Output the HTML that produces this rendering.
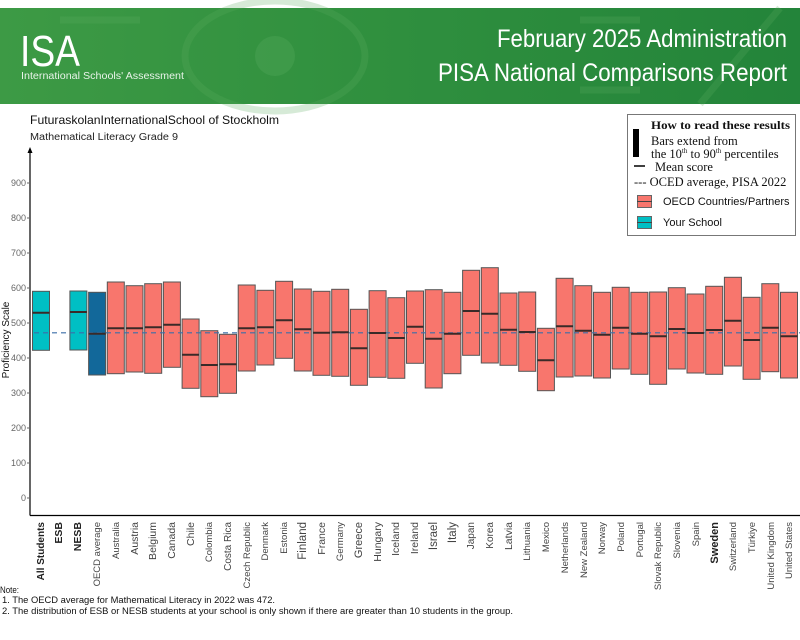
<!DOCTYPE html>
<html><head><meta charset="utf-8"><style>
html,body{margin:0;padding:0;background:#fff;}
svg{display:block;font-family:"Liberation Sans",sans-serif;}
</style></head><body>
<svg width="800" height="640" viewBox="0 0 800 640" xmlns="http://www.w3.org/2000/svg">
<defs>
<linearGradient id="g" x1="0" x2="1" y1="0" y2="0">
<stop offset="0" stop-color="#3d9a45"/><stop offset="0.5" stop-color="#2f8f3e"/><stop offset="1" stop-color="#23843a"/>
</linearGradient>
</defs>
<rect x="0" y="8" width="800" height="96" fill="url(#g)"/>
<g fill="none" stroke="#5aad5f" stroke-opacity="0.25" stroke-width="7">
<ellipse cx="275" cy="56" rx="90" ry="55"/>
<circle cx="275" cy="56" r="20" fill="#5aad5f" fill-opacity="0.3" stroke="none"/>
<line x1="60" y1="20" x2="140" y2="20"/>
<line x1="580" y1="20" x2="640" y2="20"/><line x1="580" y1="90" x2="640" y2="90"/>
<line x1="700" y1="104" x2="780" y2="8"/>
</g>
<text x="20" y="66" font-size="44" fill="#fff" textLength="60" lengthAdjust="spacingAndGlyphs">ISA</text>
<text x="21" y="79" font-size="10" fill="#e8f3e8" textLength="163" lengthAdjust="spacingAndGlyphs">International Schools' Assessment</text>
<text x="787" y="47" font-size="25" fill="#fff" text-anchor="end" textLength="290" lengthAdjust="spacingAndGlyphs">February 2025 Administration</text>
<text x="787" y="81" font-size="25" fill="#fff" text-anchor="end" textLength="349" lengthAdjust="spacingAndGlyphs">PISA National Comparisons Report</text>

<text x="30" y="124" font-size="12" fill="#111" textLength="249" lengthAdjust="spacingAndGlyphs">FuturaskolanInternationalSchool of Stockholm</text>
<text x="30" y="140" font-size="10" fill="#222" textLength="148" lengthAdjust="spacingAndGlyphs">Mathematical Literacy Grade 9</text>

<!-- legend -->
<rect x="627.5" y="114.5" width="168" height="121" fill="#fff" stroke="#777"/>
<g font-family="Liberation Serif,serif" fill="#111">
<text x="651" y="129" font-size="12" font-weight="bold" textLength="139" lengthAdjust="spacingAndGlyphs">How to read these results</text>
<rect x="633" y="129" width="6" height="28" fill="#000"/>
<text x="651" y="145" font-size="12.5">Bars extend from</text>
<text x="651" y="158" font-size="12.5">the 10<tspan font-size="7" dy="-5">th</tspan><tspan dy="5"> to 90</tspan><tspan font-size="7" dy="-5">th</tspan><tspan dy="5"> percentiles</tspan></text>
<line x1="634" y1="166" x2="645" y2="166" stroke="#000" stroke-width="1.5"/>
<text x="655" y="171" font-size="12.5">Mean score</text>
<text x="634" y="186" font-size="12.5">--- OCED average, PISA 2022</text>
</g>
<rect x="637.5" y="195.5" width="14" height="12" fill="#f8766d" stroke="#666"/><line x1="637" y1="201.5" x2="652" y2="201.5" stroke="#444"/>
<text x="663" y="205" font-size="11" fill="#111">OECD Countries/Partners</text>
<rect x="637.5" y="216.5" width="14" height="12" fill="#00bfc4" stroke="#666"/><line x1="637" y1="222.5" x2="652" y2="222.5" stroke="#444"/>
<text x="663" y="226" font-size="11" fill="#111">Your School</text>

<!-- axes -->
<line x1="30" y1="152" x2="30" y2="515.5" stroke="#000" stroke-width="1.2"/>
<polygon points="30,147 27.5,153 32.5,153" fill="#000"/>
<line x1="30" y1="515.5" x2="800" y2="515.5" stroke="#000" stroke-width="1.2"/>
<g font-size="9" fill="#666" text-anchor="end">
<text x="26" y="186">900</text><text x="26" y="221">800</text><text x="26" y="256">700</text>
<text x="26" y="291">600</text><text x="26" y="326">500</text><text x="26" y="361">400</text>
<text x="26" y="396">300</text><text x="26" y="431">200</text><text x="26" y="466">100</text>
<text x="26" y="501">0</text>
</g>
<g stroke="#666"><line x1="27" y1="183" x2="30" y2="183"/><line x1="27" y1="218" x2="30" y2="218"/><line x1="27" y1="253" x2="30" y2="253"/><line x1="27" y1="288" x2="30" y2="288"/><line x1="27" y1="323" x2="30" y2="323"/><line x1="27" y1="358" x2="30" y2="358"/><line x1="27" y1="393" x2="30" y2="393"/><line x1="27" y1="428" x2="30" y2="428"/><line x1="27" y1="463" x2="30" y2="463"/><line x1="27" y1="498" x2="30" y2="498"/></g>
<text transform="translate(9,340) rotate(-90)" font-size="10" fill="#111" text-anchor="middle">Proficiency Scale</text>

<!-- bars -->
<g stroke="#555" stroke-width="1">
<rect x="32.5" y="291.3" width="17" height="59" fill="#00bfc4"/>
<rect x="69.9" y="291" width="17" height="59" fill="#00bfc4"/>
<rect x="88.6" y="292.3" width="17" height="82.7" fill="#12689a"/>
<g fill="#f8766d">
<rect x="107.3" y="282" width="17" height="91.7"/>
<rect x="126" y="285.7" width="17" height="86.3"/>
<rect x="144.7" y="283.7" width="17" height="89.6"/>
<rect x="163.4" y="282" width="17" height="85.3"/>
<rect x="182.1" y="319" width="17" height="69.3"/>
<rect x="200.8" y="330.7" width="17" height="66"/>
<rect x="219.5" y="334.3" width="17" height="59"/>
<rect x="238.2" y="285" width="17" height="86"/>
<rect x="256.9" y="290.3" width="17" height="74.7"/>
<rect x="275.6" y="281.3" width="17" height="77"/>
<rect x="294.3" y="289" width="17" height="82"/>
<rect x="313" y="291.3" width="17" height="84"/>
<rect x="331.7" y="289.3" width="17" height="87"/>
<rect x="350.4" y="309.3" width="17" height="76"/>
<rect x="369.1" y="290.7" width="17" height="86.6"/>
<rect x="387.8" y="297.7" width="17" height="80.6"/>
<rect x="406.5" y="291" width="17" height="72.3"/>
<rect x="425.2" y="289.7" width="17" height="98.3"/>
<rect x="443.9" y="292.3" width="17" height="81.4"/>
<rect x="462.6" y="270.3" width="17" height="85"/>
<rect x="481.3" y="267.7" width="17" height="95.3"/>
<rect x="500" y="293" width="17" height="72.3"/>
<rect x="518.7" y="292" width="17" height="79.3"/>
<rect x="537.4" y="328.3" width="17" height="62.4"/>
<rect x="556.1" y="278.3" width="17" height="98.7"/>
<rect x="574.8" y="285.7" width="17" height="90.3"/>
<rect x="593.5" y="292.3" width="17" height="85.7"/>
<rect x="612.2" y="287.3" width="17" height="81.7"/>
<rect x="630.9" y="292.3" width="17" height="82"/>
<rect x="649.6" y="292" width="17" height="92.3"/>
<rect x="668.3" y="287.7" width="17" height="81.3"/>
<rect x="687" y="294" width="17" height="79"/>
<rect x="705.7" y="286.3" width="17" height="88"/>
<rect x="724.4" y="277.3" width="17" height="88.7"/>
<rect x="743.1" y="297.3" width="17" height="82"/>
<rect x="761.8" y="283.7" width="17" height="88"/>
<rect x="780.5" y="292.3" width="17" height="85.7"/>
</g></g>
<line x1="34" y1="332.8" x2="800" y2="332.8" stroke="#3b6fa8" stroke-width="1.2" stroke-dasharray="5,4"/>
<g stroke="#3a2a28" stroke-width="2">
<line x1="32.5" x2="49.5" y1="312.7" y2="312.7"/>
<line x1="69.9" x2="86.9" y1="312" y2="312"/>
<line x1="88.6" x2="105.6" y1="333.7" y2="333.7"/>
<line x1="107.3" x2="124.3" y1="328.3" y2="328.3"/>
<line x1="126" x2="143" y1="328.3" y2="328.3"/>
<line x1="144.7" x2="161.7" y1="327.3" y2="327.3"/>
<line x1="163.4" x2="180.4" y1="324.7" y2="324.7"/>
<line x1="182.1" x2="199.1" y1="354.7" y2="354.7"/>
<line x1="200.8" x2="217.8" y1="365" y2="365"/>
<line x1="219.5" x2="236.5" y1="364.3" y2="364.3"/>
<line x1="238.2" x2="255.2" y1="328.3" y2="328.3"/>
<line x1="256.9" x2="273.9" y1="327.3" y2="327.3"/>
<line x1="275.6" x2="292.6" y1="320.3" y2="320.3"/>
<line x1="294.3" x2="311.3" y1="329.3" y2="329.3"/>
<line x1="313" x2="330" y1="332.7" y2="332.7"/>
<line x1="331.7" x2="348.7" y1="332.3" y2="332.3"/>
<line x1="350.4" x2="367.4" y1="348.3" y2="348.3"/>
<line x1="369.1" x2="386.1" y1="333" y2="333"/>
<line x1="387.8" x2="404.8" y1="338" y2="338"/>
<line x1="406.5" x2="423.5" y1="326.7" y2="326.7"/>
<line x1="425.2" x2="442.2" y1="338.7" y2="338.7"/>
<line x1="443.9" x2="460.9" y1="333.7" y2="333.7"/>
<line x1="462.6" x2="479.6" y1="311" y2="311"/>
<line x1="481.3" x2="498.3" y1="313.7" y2="313.7"/>
<line x1="500" x2="517" y1="329.7" y2="329.7"/>
<line x1="518.7" x2="535.7" y1="332" y2="332"/>
<line x1="537.4" x2="554.4" y1="360.3" y2="360.3"/>
<line x1="556.1" x2="573.1" y1="326.3" y2="326.3"/>
<line x1="574.8" x2="591.8" y1="330.7" y2="330.7"/>
<line x1="593.5" x2="610.5" y1="334.7" y2="334.7"/>
<line x1="612.2" x2="629.2" y1="327.7" y2="327.7"/>
<line x1="630.9" x2="647.9" y1="333.7" y2="333.7"/>
<line x1="649.6" x2="666.6" y1="336.3" y2="336.3"/>
<line x1="668.3" x2="685.3" y1="329" y2="329"/>
<line x1="687" x2="704" y1="333" y2="333"/>
<line x1="705.7" x2="722.7" y1="330" y2="330"/>
<line x1="724.4" x2="741.4" y1="320.7" y2="320.7"/>
<line x1="743.1" x2="760.1" y1="340" y2="340"/>
<line x1="761.8" x2="778.8" y1="327.7" y2="327.7"/>
<line x1="780.5" x2="797.5" y1="336.3" y2="336.3"/>
</g>

<!-- x labels -->
<g font-size="9.5" fill="#444" text-anchor="end">
<text transform="translate(44,522) rotate(-90)" font-weight="bold" fill="#222" font-size="10">All Students</text>
<text transform="translate(62,522) rotate(-90)" font-weight="bold" fill="#222" font-size="10.5">ESB</text>
<text transform="translate(81,522) rotate(-90)" font-weight="bold" fill="#222" font-size="10.5">NESB</text>
<text transform="translate(100,522) rotate(-90)">OECD average</text>
<text transform="translate(119,522) rotate(-90)">Australia</text>
<text transform="translate(138,522) rotate(-90)" font-size="10.5">Austria</text>
<text transform="translate(156,522) rotate(-90)" font-size="10.5">Belgium</text>
<text transform="translate(175,522) rotate(-90)" font-size="10.5">Canada</text>
<text transform="translate(194,522) rotate(-90)" font-size="10.5">Chile</text>
<text transform="translate(212,522) rotate(-90)">Colombia</text>
<text transform="translate(231,522) rotate(-90)" font-size="10">Costa Rica</text>
<text transform="translate(250,522) rotate(-90)">Czech Republic</text>
<text transform="translate(268,522) rotate(-90)">Denmark</text>
<text transform="translate(287,522) rotate(-90)">Estonia</text>
<text transform="translate(306,522) rotate(-90)" font-size="11.5">Finland</text>
<text transform="translate(325,522) rotate(-90)" font-size="10.5">France</text>
<text transform="translate(343,522) rotate(-90)">Germany</text>
<text transform="translate(362,522) rotate(-90)" font-size="11">Greece</text>
<text transform="translate(381,522) rotate(-90)" font-size="10.5">Hungary</text>
<text transform="translate(399,522) rotate(-90)" font-size="10.5">Iceland</text>
<text transform="translate(418,522) rotate(-90)" font-size="10.5">Ireland</text>
<text transform="translate(437,522) rotate(-90)" font-size="11.5">Israel</text>
<text transform="translate(456,522) rotate(-90)" font-size="11.5">Italy</text>
<text transform="translate(474,522) rotate(-90)" font-size="10">Japan</text>
<text transform="translate(493,522) rotate(-90)" font-size="10">Korea</text>
<text transform="translate(512,522) rotate(-90)" font-size="10.5">Latvia</text>
<text transform="translate(530,522) rotate(-90)">Lithuania</text>
<text transform="translate(549,522) rotate(-90)">Mexico</text>
<text transform="translate(568,522) rotate(-90)">Netherlands</text>
<text transform="translate(587,522) rotate(-90)">New Zealand</text>
<text transform="translate(605,522) rotate(-90)">Norway</text>
<text transform="translate(624,522) rotate(-90)">Poland</text>
<text transform="translate(643,522) rotate(-90)">Portugal</text>
<text transform="translate(661,522) rotate(-90)">Slovak Republic</text>
<text transform="translate(680,522) rotate(-90)">Slovenia</text>
<text transform="translate(699,522) rotate(-90)">Spain</text>
<text transform="translate(718,522) rotate(-90)" font-weight="bold" fill="#222" font-size="11">Sweden</text>
<text transform="translate(736,522) rotate(-90)">Switzerland</text>
<text transform="translate(755,522) rotate(-90)">Türkiye</text>
<text transform="translate(774,522) rotate(-90)">United Kingdom</text>
<text transform="translate(792,522) rotate(-90)">United States</text>
</g>

<g font-size="9" fill="#111">
<text x="0" y="593" textLength="19" lengthAdjust="spacingAndGlyphs">Note:</text>
<text x="2" y="603" textLength="273" lengthAdjust="spacingAndGlyphs">1. The OECD average for Mathematical Literacy in 2022 was 472.</text>
<text x="2" y="614" textLength="511" lengthAdjust="spacingAndGlyphs">2. The distribution of ESB or NESB students at your school is only shown if there are greater than 10 students in the group.</text>
</g>
</svg>
</body></html>
